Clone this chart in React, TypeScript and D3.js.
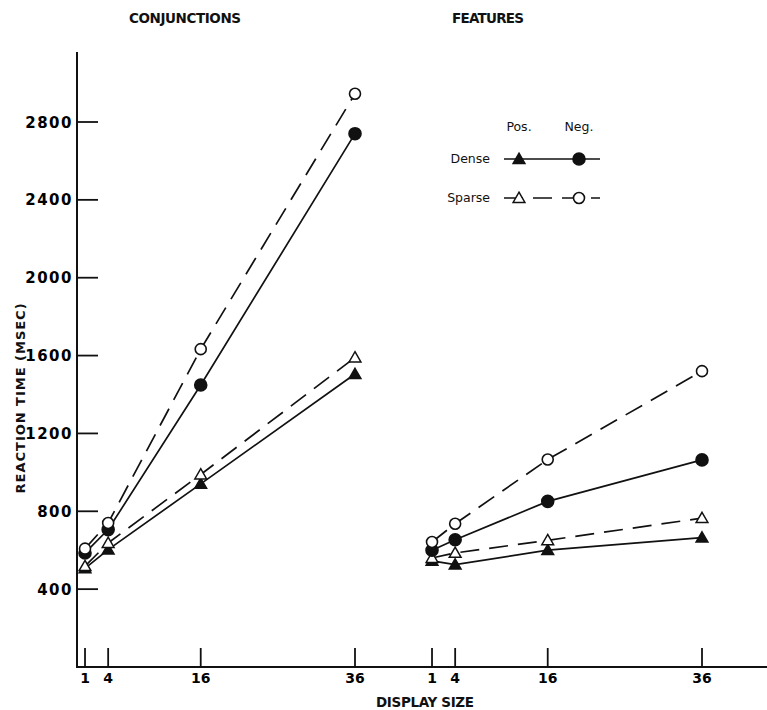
import { line, scaleLinear, symbol, symbolTriangle } from "d3";

// display sizes along the x axis (shared by both panels)
const displaySizes = [1, 4, 16, 36];
const yTicks = [400, 800, 1200, 1600, 2000, 2400, 2800];

// reaction times (msec)
const conjDensePos = [507, 603, 941, 1505];
const conjSparsePos = [518, 637, 989, 1590];
const conjDenseNeg = [586, 706, 1449, 2740];
const conjSparseNeg = [608, 740, 1633, 2945];

const featDensePos = [545, 526, 600, 665];
const featSparsePos = [560, 586, 651, 765];
const featDenseNeg = [600, 654, 851, 1064];
const featSparseNeg = [642, 736, 1066, 1520];

const WIDTH = 767;
const HEIGHT = 710;
const AXIS_X = 77;
const AXIS_Y = 667;
const FONT = "'DejaVu Sans', Verdana, sans-serif";
const DASH = "19,10";

type Shape = "triangle" | "circle";

type Series = {
  values: number[];
  shape: Shape;
  filled: boolean;
  dashed: boolean;
};

const conjSeries: Series[] = [
  { values: conjDensePos, shape: "triangle", filled: true, dashed: false },
  { values: conjSparsePos, shape: "triangle", filled: false, dashed: true },
  { values: conjDenseNeg, shape: "circle", filled: true, dashed: false },
  { values: conjSparseNeg, shape: "circle", filled: false, dashed: true }
];

const featSeries: Series[] = [
  { values: featDensePos, shape: "triangle", filled: true, dashed: false },
  { values: featSparsePos, shape: "triangle", filled: false, dashed: true },
  { values: featDenseNeg, shape: "circle", filled: true, dashed: false },
  { values: featSparseNeg, shape: "circle", filled: false, dashed: true }
];

const yScale = scaleLinear().domain([0, 2800]).range([AXIS_Y, 122]);
const conjX = scaleLinear().domain([0, 36]).range([77.3, 355]);
const featX = scaleLinear().domain([0, 36]).range([424.3, 702]);

const trianglePath = symbol().type(symbolTriangle).size(60)() ?? "";

function Marker({ x, y, shape, filled }: { x: number; y: number; shape: Shape; filled: boolean }) {
  const fill = filled ? "#111" : "#fff";
  if (shape === "circle") {
    return <circle cx={x} cy={y} r={filled ? 6 : 5.5} fill={fill} stroke="#111" strokeWidth={1.6} />;
  }
  return <path d={trianglePath} transform={`translate(${x},${y + 1})`} fill={fill} stroke="#111" strokeWidth={1.5} />;
}

function Panel({ series, xScale }: { series: Series[]; xScale: (n: number) => number }) {
  return (
    <g>
      {displaySizes.map((n) => (
        <g key={n}>
          <line x1={xScale(n)} x2={xScale(n)} y1={AXIS_Y} y2={AXIS_Y - 19} stroke="#111" strokeWidth={1.8} />
          <text x={xScale(n)} y={AXIS_Y + 16} textAnchor="middle" fontSize={14} fontWeight="bold" fontFamily={FONT}>
            {n}
          </text>
        </g>
      ))}
      {series.map((s, i) => {
        const path = line<number>()
          .x((_v, idx) => xScale(displaySizes[idx]))
          .y((v) => yScale(v))(s.values);
        return (
          <g key={i}>
            <path d={path ?? ""} fill="none" stroke="#111" strokeWidth={1.7} strokeDasharray={s.dashed ? DASH : undefined} />
            {s.values.map((v, idx) => (
              <Marker key={idx} x={xScale(displaySizes[idx])} y={yScale(v)} shape={s.shape} filled={s.filled} />
            ))}
          </g>
        );
      })}
    </g>
  );
}

function Legend() {
  const col = scaleLinear().domain([0, 1]).range([519, 579]);
  const rows = [
    { label: "Dense", y: 159, filled: true, dashed: false },
    { label: "Sparse", y: 198, filled: false, dashed: true }
  ];
  return (
    <g fontFamily={FONT} fontSize={12.5} fill="#111">
      <text x={col(0)} y={131} textAnchor="middle">Pos.</text>
      <text x={col(1)} y={131} textAnchor="middle">Neg.</text>
      {rows.map((r) => (
        <g key={r.label}>
          <text x={col(0) - 29} y={r.y + 4} textAnchor="end">{r.label}</text>
          <line x1={col(0) - 15} x2={col(1) + 21} y1={r.y} y2={r.y} stroke="#111" strokeWidth={1.7} strokeDasharray={r.dashed ? DASH : undefined} />
          <Marker x={col(0)} y={r.y} shape="triangle" filled={r.filled} />
          <Marker x={col(1)} y={r.y} shape="circle" filled={r.filled} />
        </g>
      ))}
    </g>
  );
}

export default function App() {
  return (
    <div style={{ position: "fixed", left: 0, top: 0, width: WIDTH, height: HEIGHT, background: "#fff" }}>
      <svg width={WIDTH} height={HEIGHT} viewBox={`0 0 ${WIDTH} ${HEIGHT}`}>
        <rect width={WIDTH} height={HEIGHT} fill="#fff" />
        <g fontFamily={FONT} fontWeight="bold" fill="#111">
          <text x={185} y={23} textAnchor="middle" fontSize={13.5} textLength={112}>CONJUNCTIONS</text>
          <text x={488} y={23} textAnchor="middle" fontSize={13.5} textLength={72}>FEATURES</text>
          <text x={425} y={707} textAnchor="middle" fontSize={13.5} textLength={98}>DISPLAY SIZE</text>
          <text
            transform={`translate(25,${yScale(1380)}) rotate(-90)`}
            textAnchor="middle"
            fontSize={13}
            textLength={190}
          >
            REACTION TIME (MSEC)
          </text>
        </g>

        {/* axes */}
        <line x1={AXIS_X} x2={AXIS_X} y1={AXIS_Y + 1} y2={52} stroke="#111" strokeWidth={2} />
        <line x1={AXIS_X - 1} x2={WIDTH} y1={AXIS_Y} y2={AXIS_Y} stroke="#111" strokeWidth={2.2} />
        {yTicks.map((t) => (
          <g key={t}>
            <line x1={AXIS_X} x2={AXIS_X + 21} y1={yScale(t)} y2={yScale(t)} stroke="#111" strokeWidth={1.8} />
            <text
              x={AXIS_X - 4}
              y={yScale(t) + 5.5}
              textAnchor="end"
              fontSize={15}
              letterSpacing={1.5}
              fontFamily={FONT}
              fontWeight="bold"
            >
              {t}
            </text>
          </g>
        ))}

        <Panel series={conjSeries} xScale={conjX} />
        <Panel series={featSeries} xScale={featX} />
        <Legend />
      </svg>
    </div>
  );
}
